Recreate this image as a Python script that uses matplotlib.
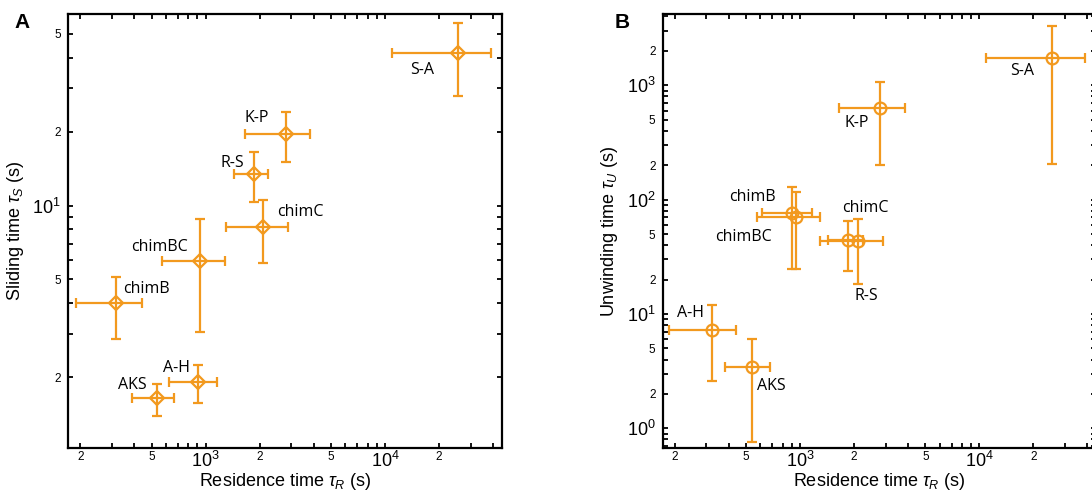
import matplotlib
matplotlib.use('Agg')
import matplotlib.pyplot as plt
from matplotlib.ticker import LogLocator, NullFormatter

plt.rcParams['font.family'] = ['Liberation Sans', 'DejaVu Sans']
plt.rcParams['mathtext.fontset'] = 'custom'
plt.rcParams['mathtext.rm'] = 'Liberation Sans'
plt.rcParams['mathtext.it'] = 'Liberation Sans:italic'

orange = '#F2991E'

# ---- panel A: sliding time vs residence time ----
names_a = ['S-A', 'K-P', 'R-S', 'chimC', 'chimBC', 'chimB', 'A-H', 'AKS']
res_a = [25600, 2790, 1860, 2095, 933, 316, 906, 535]
res_a_lo = [11000, 1656, 1438, 1298, 573, 189, 627, 388]
res_a_hi = [39000, 3818, 2234, 2866, 1276, 440, 1151, 665]
slide = [41.7, 19.6, 13.5, 8.14, 5.97, 4.01, 1.91, 1.64]
slide_lo = [27.9, 15.0, 10.3, 5.83, 3.06, 2.86, 1.57, 1.39]
slide_hi = [55.2, 24.0, 16.5, 10.5, 8.83, 5.14, 2.24, 1.88]
# label offsets (pixels, right / down)
off_a = [(-36, 17), (-29, -16), (-22, -11), (37, -15), (-41, -14), (31, -14), (-21, -14), (-25, -13)]

# ---- panel B: unwinding time vs residence time ----
names_b = ['S-A', 'K-P', 'chimB', 'chimBC', 'R-S', 'chimC', 'A-H', 'AKS']
res_b = [25300, 2805, 899, 950, 1857, 2113, 321, 539]
res_b_lo = [10810, 1643, 614, 573, 1438, 1292, 186, 382]
res_b_hi = [38700, 3853, 1165, 1286, 2234, 2892, 442, 676]
unwind = [1738, 637, 76.4, 70.0, 44.6, 43.5, 7.21, 3.45]
unwind_lo = [206, 200, 24.5, 24.5, 24.0, 18.2, 2.61, 0.766]
unwind_hi = [3297, 1070, 128, 116, 64.6, 67.6, 12.0, 6.1]
off_b = [(-30, 13), (-24, 15), (-39, -16), (-53, 20), (18, 56), (7, -33), (-21, -17), (19, 19)]


def err(v, lo, hi):
    return [[a - b for a, b in zip(v, lo)], [c - a for a, c in zip(v, hi)]]


def style_axis(axis, ticks, labels):
    axis.set_ticks(ticks)
    axis.set_ticklabels(labels)
    axis.set_minor_locator(LogLocator(base=10, subs=(3, 4, 6, 7, 8, 9), numticks=20))
    axis.set_minor_formatter(NullFormatter())
    for t, lab in zip(axis.get_major_ticks(), labels):
        big = lab.startswith('$')
        t.tick1line.set_markersize(9 if big else 5)
        t.tick2line.set_markersize(9 if big else 5)
        t.label1.set_fontsize(13 if big else 8.5)


def panel(ax, x, xlo, xhi, y, ylo, yhi, names, offs, marker, ms, ylim, yticks, ylabels, ylabel):
    ax.errorbar(x, y, xerr=err(x, xlo, xhi), yerr=err(y, ylo, yhi), fmt=marker,
                color=orange, mfc='none', mec=orange, ms=ms, mew=1.6,
                elinewidth=1.6, capsize=3.5, capthick=1.6)
    for n, xi, yi, (dx, dy) in zip(names, x, y, offs):
        ax.annotate(n, (xi, yi), xytext=(dx * 0.72, -dy * 0.72), textcoords='offset points',
                    ha='center', va='center', fontsize=11.5, family=['Open Sans', 'DejaVu Sans'])
    ax.set_xscale('log')
    ax.set_yscale('log')
    ax.set_xlim(171, 44900)
    ax.set_ylim(*ylim)
    style_axis(ax.xaxis, [200, 500, 1000, 2000, 5000, 10000, 20000],
               ['2', '5', '$10^3$', '2', '5', '$10^4$', '2'])
    style_axis(ax.yaxis, yticks, ylabels)
    ax.tick_params(which='both', direction='in', top=True, right=True, width=1.3)
    ax.tick_params(axis='x', pad=2)
    ax.tick_params(axis='y', pad=5)
    ax.tick_params(which='minor', length=3.5)
    for s in ax.spines.values():
        s.set_linewidth(1.6)
    ax.set_xlabel(r'Residence time $\tau_R$ (s)', fontsize=13, labelpad=0)
    ax.set_ylabel(ylabel, fontsize=13, labelpad=5)


fig = plt.figure(figsize=(10.92, 4.95), dpi=100)
ax_a = fig.add_axes([0.0623, 0.0949, 0.3974, 0.8768])
ax_b = fig.add_axes([0.6067, 0.0949, 0.3974, 0.8768])

panel(ax_a, res_a, res_a_lo, res_a_hi, slide, slide_lo, slide_hi, names_a, off_a,
      'D', 7, (1.03, 60.2), [2, 5, 10, 20, 50], ['2', '5', '$10^1$', '2', '5'],
      r'Sliding time $\tau_S$ (s)')
panel(ax_b, res_b, res_b_lo, res_b_hi, unwind, unwind_lo, unwind_hi, names_b, off_b,
      'o', 8.5, (0.673, 4200), [1, 2, 5, 10, 20, 50, 100, 200, 500, 1000, 2000],
      ['$10^0$', '2', '5', '$10^1$', '2', '5', '$10^2$', '2', '5', '$10^3$', '2'],
      r'Unwinding time $\tau_U$ (s)')

fig.text(0.020, 0.955, 'A', fontsize=15, fontweight='bold', ha='center', va='center')
fig.text(0.5696, 0.955, 'B', fontsize=15, fontweight='bold', ha='center', va='center')

fig.savefig('out.png', dpi=100)
